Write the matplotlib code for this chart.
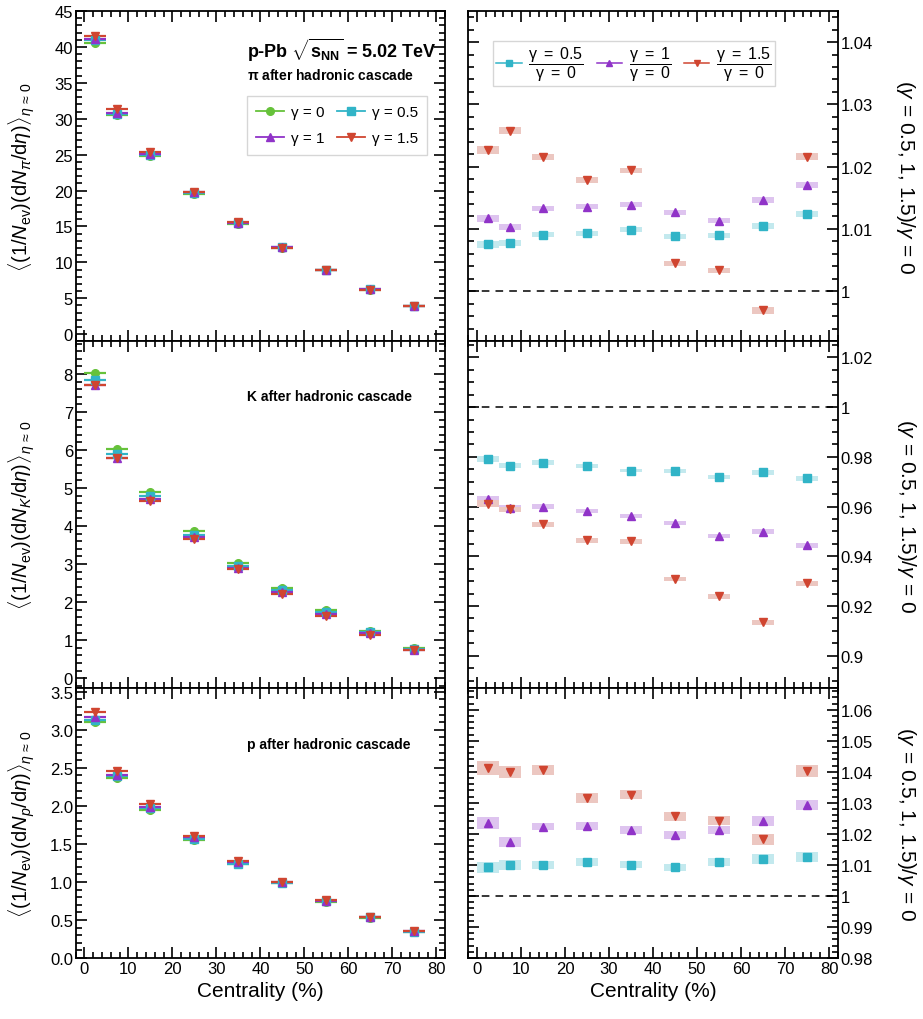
"""Charged-hadron yields vs centrality for several gamma values, with ratios to gamma = 0."""

import matplotlib

matplotlib.use("Agg")
import matplotlib.pyplot as plt
from matplotlib.lines import Line2D
from matplotlib.ticker import FormatStrFormatter, MultipleLocator

plt.rcParams["font.family"] = ["Liberation Sans", "DejaVu Sans"]
plt.rcParams["mathtext.fontset"] = "custom"
plt.rcParams["mathtext.rm"] = "Liberation Sans"
plt.rcParams["mathtext.it"] = "Liberation Sans:italic"
plt.rcParams["mathtext.bf"] = "Liberation Sans:bold"

centrality = [2.5, 7.5, 15, 25, 35, 45, 55, 65, 75]
gammas = ["0", "0.5", "1", "1.5"]

# yields, one list per gamma
pi_yield = {
    "0": [40.6, 30.5, 24.8, 19.5, 15.3, 12.0, 8.9, 6.2, 3.9],
    "0.5": [40.9, 30.7, 25.0, 19.7, 15.45, 12.1, 8.98, 6.27, 3.95],
    "1": [41.1, 30.8, 25.1, 19.8, 15.5, 12.15, 9.0, 6.29, 3.97],
    "1.5": [41.5, 31.3, 25.3, 19.85, 15.6, 12.05, 8.93, 6.18, 3.98],
}
k_yield = {
    "0": [8.02, 6.03, 4.90, 3.86, 3.02, 2.38, 1.78, 1.24, 0.79],
    "0.5": [7.85, 5.89, 4.79, 3.77, 2.94, 2.32, 1.73, 1.21, 0.77],
    "1": [7.72, 5.79, 4.70, 3.70, 2.89, 2.27, 1.69, 1.18, 0.75],
    "1.5": [7.71, 5.78, 4.67, 3.65, 2.86, 2.22, 1.64, 1.13, 0.73],
}
p_yield = {
    "0": [3.10, 2.37, 1.95, 1.55, 1.23, 0.98, 0.74, 0.53, 0.34],
    "0.5": [3.13, 2.39, 1.97, 1.57, 1.24, 0.99, 0.75, 0.536, 0.344],
    "1": [3.17, 2.41, 1.99, 1.585, 1.256, 0.999, 0.756, 0.543, 0.35],
    "1.5": [3.23, 2.46, 2.03, 1.60, 1.27, 1.005, 0.758, 0.54, 0.354],
}

# ratios to gamma = 0 and their box half-heights
pi_ratio = {
    "0.5": [1.0075, 1.0078, 1.0091, 1.0093, 1.0099, 1.0088, 1.0090, 1.0105, 1.0124],
    "1": [1.0117, 1.0103, 1.0133, 1.0136, 1.0139, 1.0127, 1.0113, 1.0147, 1.0171],
    "1.5": [1.0227, 1.0258, 1.0216, 1.0178, 1.0194, 1.0045, 1.0034, 0.9969, 1.0216],
}
pi_ratio_err = {
    "0.5": [0.0006, 0.0005, 0.0004, 0.0004, 0.0004, 0.0004, 0.0004, 0.0005, 0.0005],
    "1": [0.0006, 0.0005, 0.0004, 0.0004, 0.0004, 0.0004, 0.0004, 0.0005, 0.0005],
    "1.5": [0.0006, 0.0006, 0.0005, 0.0005, 0.0004, 0.0004, 0.0004, 0.0005, 0.0006],
}
k_ratio = {
    "0.5": [0.9791, 0.9765, 0.9777, 0.9765, 0.9745, 0.9742, 0.9718, 0.9737, 0.9714],
    "1": [0.9629, 0.9596, 0.9600, 0.9581, 0.9562, 0.9534, 0.9483, 0.9499, 0.9444],
    "1.5": [0.9611, 0.9589, 0.9528, 0.9464, 0.9460, 0.9309, 0.9239, 0.9134, 0.9291],
}
k_ratio_err = {
    "0.5": [0.0012, 0.0010, 0.0009, 0.0008, 0.0008, 0.0008, 0.0008, 0.0009, 0.0010],
    "1": [0.0012, 0.0010, 0.0009, 0.0008, 0.0008, 0.0008, 0.0008, 0.0009, 0.0010],
    "1.5": [0.0014, 0.0011, 0.0010, 0.0009, 0.0009, 0.0009, 0.0009, 0.0010, 0.0011],
}
p_ratio = {
    "0.5": [1.0092, 1.0101, 1.0101, 1.0110, 1.0101, 1.0092, 1.0110, 1.0119, 1.0125],
    "1": [1.0236, 1.0175, 1.0223, 1.0226, 1.0212, 1.0197, 1.0212, 1.0240, 1.0293],
    "1.5": [1.0412, 1.0400, 1.0405, 1.0315, 1.0326, 1.0257, 1.0243, 1.0182, 1.0402],
}
p_ratio_err = {
    "0.5": [0.0017, 0.0016, 0.0013, 0.0013, 0.0011, 0.0011, 0.0013, 0.0016, 0.0016],
    "1": [0.0019, 0.0016, 0.0012, 0.0012, 0.0012, 0.0012, 0.0012, 0.0016, 0.0016],
    "1.5": [0.0022, 0.0020, 0.0016, 0.0016, 0.0015, 0.0014, 0.0014, 0.0019, 0.0020],
}

colors = {"0": "#66c23a", "0.5": "#31b4c7", "1": "#9033c8", "1.5": "#d04530"}
box_colors = {"0.5": "#c3e9ee", "1": "#dec4ef", "1.5": "#ecc7c1"}
markers = {"0": "o", "0.5": "s", "1": "^", "1.5": "v"}

W, H = 923, 1020
left_x, right_x, panel_w = 75.7, 468.3, 369.5
rows = [(12, 342), (342, 689), (689, 959)]


def frac(x0, y_top, y_bot):
    return [x0 / W, 1 - y_bot / H, panel_w / W, (y_bot - y_top) / H]


def style(ax, ymaj, ymin, right=False):
    ax.set_xlim(-2, 82)
    ax.xaxis.set_major_locator(MultipleLocator(10))
    ax.xaxis.set_minor_locator(MultipleLocator(2))
    ax.yaxis.set_major_locator(MultipleLocator(ymaj))
    ax.yaxis.set_minor_locator(MultipleLocator(ymin))
    ax.tick_params(which="both", direction="in", top=True, right=True,
                   labelsize=12, width=1.2, pad=2)
    ax.tick_params(which="major", length=8)
    ax.tick_params(which="minor", length=4)
    if right:
        ax.tick_params(labelleft=False, labelright=True)
        ax.yaxis.set_major_formatter(FormatStrFormatter("%g"))
    for s in ax.spines.values():
        s.set_linewidth(1.3)


fig = plt.figure(figsize=(W / 100, H / 100), dpi=100)

yields = [pi_yield, k_yield, p_yield]
ratios = [pi_ratio, k_ratio, p_ratio]
ratio_errs = [pi_ratio_err, k_ratio_err, p_ratio_err]
left_ylim = [(-0.95, 45), (-0.26, 8.87), (0, 3.55)]
left_ticks = [(5, 1), (1, 0.2), (0.5, 0.1)]
right_ylim = [(0.992, 1.045), (0.887, 1.0266), (0.98, 1.067)]
right_ticks = [(0.01, 0.002), (0.02, 0.005), (0.01, 0.002)]
species = [r"\pi", "K", "p"]
particle_text = [(76, r"$\mathbf{\pi}$ after hadronic cascade"),
                 (397, "K after hadronic cascade"),
                 (745, "p after hadronic cascade")]

for i, (y_top, y_bot) in enumerate(rows):
    axl = fig.add_axes(frac(left_x, y_top, y_bot))
    axr = fig.add_axes(frac(right_x, y_top, y_bot))

    for g in gammas:
        axl.errorbar(centrality, yields[i][g], xerr=2.5, fmt=markers[g],
                     color=colors[g], ms=5.5, elinewidth=1.6, capsize=0, zorder=3)
    axl.set_ylim(*left_ylim[i])
    style(axl, *left_ticks[i])
    axl.set_ylabel(r"$\langle(1/N_{\rm ev})(\mathrm{d}N_{" + species[i]
                   + r"}/\mathrm{d}\eta)\rangle_{\eta\,\approx\,0}$", fontsize=14.5)
    axl.yaxis.set_label_coords(-0.105, 0.5)

    axr.axhline(1, color="black", ls=(0, (5, 4)), lw=1.1, zorder=1)
    for g in gammas[1:]:
        r, e = ratios[i][g], ratio_errs[i][g]
        axr.bar(centrality, [2 * v for v in e], bottom=[a - b for a, b in zip(r, e)],
                width=5, color=box_colors[g], lw=0, zorder=2)
        axr.plot(centrality, r, ls="none", marker=markers[g], color=colors[g],
                 ms=5.5, zorder=3)
    axr.set_ylim(*right_ylim[i])
    style(axr, *right_ticks[i], right=True)
    axr.yaxis.set_label_position("right")
    axr.set_ylabel(r"($\gamma$ = 0.5, 1, 1.5)/$\gamma$ = 0", fontsize=15,
                   rotation=-90, labelpad=32)

    if i < 2:
        axl.tick_params(labelbottom=False)
        axr.tick_params(labelbottom=False)
    else:
        axl.set_xlabel("Centrality (%)", fontsize=15)
        axr.set_xlabel("Centrality (%)", fontsize=15)

    ty, txt = particle_text[i]
    fig.text(247 / W, 1 - ty / H, txt, fontsize=10, fontweight="bold", va="center")

fig.text(247 / W, 1 - 50 / H, r"p-Pb $\mathbf{\sqrt{s_{NN}}}$ = 5.02 TeV",
         fontsize=13, fontweight="bold", va="center")

handles = [Line2D([], [], color=colors[g], marker=markers[g], ms=5.5, lw=1.3)
           for g in ["0", "1", "0.5", "1.5"]]
labels = [f"γ = {g}" for g in ["0", "1", "0.5", "1.5"]]
fig.legend(handles, labels, loc="upper left", bbox_to_anchor=(247 / W, 1 - 97 / H),
           ncol=2, fontsize=11, frameon=True, fancybox=False, edgecolor="#cccccc",
           handlelength=1.8, handletextpad=0.5, columnspacing=0.8, borderaxespad=0,
           borderpad=0.6, labelspacing=0.8)

rhandles = [Line2D([], [], color=colors[g], marker=markers[g], ms=5, lw=1.1)
            for g in gammas[1:]]
rlabels = [r"$\dfrac{\mathrm{\gamma\ =\ " + g + r"}}{\mathrm{\gamma\ =\ 0}}$"
           for g in gammas[1:]]
fig.legend(rhandles, rlabels, loc="upper left", bbox_to_anchor=(493 / W, 1 - 42 / H),
           ncol=3, fontsize=11.5, frameon=True, fancybox=False, edgecolor="#cccccc",
           handlelength=1.6, columnspacing=0.8, borderaxespad=0, borderpad=0.2,
           handletextpad=0.4)

fig.savefig("out.png", dpi=100)
